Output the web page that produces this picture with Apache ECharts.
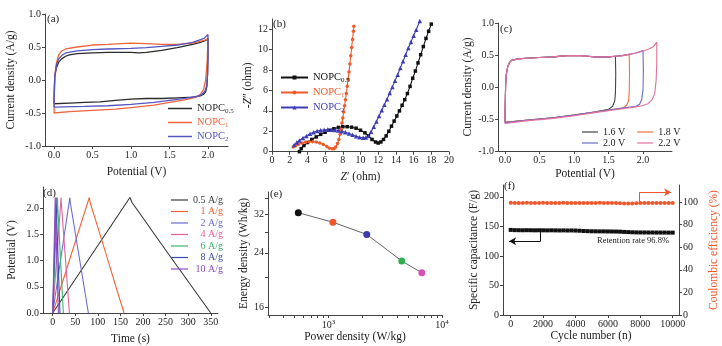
<!DOCTYPE html>
<html>
<head>
<meta charset="utf-8">
<script src="https://cdn.jsdelivr.net/npm/echarts@6/dist/echarts.min.js"></script>
<style>
html, body { margin: 0; padding: 0; background: #fff; }
#chart { width: 722px; height: 346px; }
</style>
</head>
<body>
<div id="chart"></div>
<script>
const FONT = 'Liberation Serif'

// (a) CV of the three samples, [potential V, current A/g]
const cvNopc05 = [[0,-0.36],[0.005,-0.1],[0.01,0.05],[0.03,0.18],[0.06,0.27],[0.1,0.32],[0.15,0.36],[0.2,0.38],[0.3,0.40],[0.5,0.41],[0.7,0.42],[0.9,0.42],[1.0,0.42],[1.1,0.41],[1.2,0.42],[1.4,0.45],[1.6,0.49],[1.8,0.54],[1.9,0.57],[1.97,0.60],[2.0,0.63],[2.0,0.4],[1.995,0.1],[1.985,-0.1],[1.97,-0.18],[1.94,-0.22],[1.9,-0.24],[1.8,-0.26],[1.6,-0.27],[1.4,-0.28],[1.2,-0.28],[1.0,-0.29],[0.8,-0.31],[0.6,-0.33],[0.4,-0.34],[0.2,-0.35],[0,-0.36]]
const cvNopc1 = [[0,-0.5],[0.005,-0.2],[0.01,0.05],[0.03,0.25],[0.06,0.38],[0.1,0.44],[0.15,0.47],[0.3,0.50],[0.5,0.53],[0.7,0.54],[1.0,0.56],[1.2,0.55],[1.4,0.54],[1.6,0.54],[1.8,0.56],[1.95,0.6],[2.0,0.62],[1.99,0.3],[1.97,0.0],[1.94,-0.15],[1.9,-0.22],[1.85,-0.26],[1.7,-0.3],[1.5,-0.34],[1.3,-0.38],[1.0,-0.42],[0.8,-0.44],[0.5,-0.46],[0.2,-0.48],[0,-0.5]]
const cvNopc2 = [[0,-0.41],[0.005,-0.15],[0.01,0.05],[0.03,0.22],[0.06,0.32],[0.1,0.37],[0.15,0.41],[0.3,0.44],[0.5,0.46],[0.7,0.47],[1.0,0.48],[1.2,0.49],[1.4,0.51],[1.6,0.53],[1.8,0.57],[1.95,0.63],[2.0,0.69],[2.0,0.4],[1.995,0.1],[1.985,-0.08],[1.96,-0.17],[1.92,-0.22],[1.85,-0.25],[1.7,-0.28],[1.5,-0.31],[1.3,-0.34],[1.0,-0.37],[0.7,-0.39],[0.4,-0.40],[0,-0.41]]

// (b) Nyquist plots, [Z' ohm, -Z'' ohm]
const nyqNopc05 = [[3.1,0],[3.3,0.3],[3.6,0.6],[4.0,0.9],[4.5,1.2],[5.0,1.45],[5.5,1.7],[6.0,1.9],[6.5,2.1],[7.0,2.25],[7.5,2.38],[8.0,2.45],[8.5,2.45],[9.0,2.4],[9.5,2.3],[10.0,2.1],[10.5,1.85],[10.9,1.55],[11.3,1.2],[11.7,0.95],[12.0,0.85],[12.3,0.95],[12.6,1.2],[12.9,1.55],[13.2,2.0],[13.5,2.5],[13.8,3.0],[14.1,3.5],[14.4,4.0],[14.7,4.55],[15.0,5.1],[15.3,5.7],[15.6,6.4],[15.9,7.2],[16.2,7.9],[16.5,8.7],[16.8,9.5],[17.1,10.3],[17.4,11.1],[17.7,11.8],[18.0,12.5]]
const nyqNopc1 = [[2.4,0.45],[2.7,0.6],[3.0,0.72],[3.4,0.85],[3.8,0.93],[4.2,0.98],[4.6,0.98],[5.0,0.95],[5.4,0.85],[5.8,0.7],[6.2,0.5],[6.5,0.35],[6.8,0.28],[7.0,0.3],[7.2,0.45],[7.4,0.8],[7.55,1.2],[7.7,1.7],[7.8,2.2],[7.9,2.8],[8.0,3.3],[8.1,3.9],[8.2,4.5],[8.3,5.1],[8.4,5.7],[8.5,6.4],[8.6,7.1],[8.7,7.8],[8.8,8.6],[8.9,9.4],[9.0,10.2],[9.1,11.0],[9.2,11.8],[9.25,12.3]]
const nyqNopc2 = [[2.5,0.65],[2.8,0.9],[3.1,1.1],[3.5,1.35],[3.9,1.55],[4.3,1.75],[4.7,1.9],[5.1,2.02],[5.5,2.1],[5.9,2.15],[6.3,2.17],[6.7,2.15],[7.1,2.12],[7.5,2.08],[7.9,2.0],[8.3,1.9],[8.7,1.78],[9.1,1.65],[9.5,1.52],[9.9,1.42],[10.3,1.37],[10.6,1.38],[10.9,1.55],[11.2,1.95],[11.5,2.45],[11.8,2.95],[12.1,3.5],[12.4,4.05],[12.7,4.6],[13.0,5.15],[13.3,5.75],[13.6,6.35],[13.9,6.95],[14.2,7.55],[14.5,8.2],[14.8,8.85],[15.1,9.5],[15.4,10.15],[15.7,10.75],[16.0,11.35],[16.3,11.95],[16.7,12.8]]

// (c) CV at different voltage windows
const cv16 = [[0,-0.55],[0.005,-0.2],[0.01,0.05],[0.02,0.2],[0.04,0.32],[0.07,0.39],[0.1,0.42],[0.2,0.44],[0.3,0.45],[0.5,0.46],[0.7,0.47],[0.9,0.49],[1.0,0.49],[1.1,0.49],[1.2,0.48],[1.3,0.47],[1.4,0.47],[1.5,0.47],[1.6,0.48],[1.605,0.2],[1.6,-0.1],[1.59,-0.22],[1.56,-0.3],[1.5,-0.35],[1.3,-0.39],[1.0,-0.44],[0.7,-0.48],[0.5,-0.5],[0.3,-0.52],[0,-0.55]]
const cv18 = [[0,-0.55],[0.005,-0.2],[0.01,0.05],[0.02,0.2],[0.04,0.32],[0.07,0.39],[0.1,0.42],[0.2,0.44],[0.3,0.45],[0.5,0.46],[0.7,0.47],[0.9,0.49],[1.0,0.49],[1.1,0.49],[1.2,0.48],[1.3,0.47],[1.4,0.47],[1.5,0.47],[1.6,0.48],[1.7,0.49],[1.8,0.51],[1.805,0.2],[1.8,-0.1],[1.79,-0.22],[1.76,-0.29],[1.7,-0.33],[1.5,-0.36],[1.3,-0.39],[1.0,-0.44],[0.7,-0.48],[0.5,-0.5],[0.3,-0.52],[0,-0.55]]
const cv20 = [[0,-0.56],[0.005,-0.2],[0.01,0.05],[0.02,0.2],[0.04,0.32],[0.07,0.39],[0.1,0.42],[0.2,0.44],[0.3,0.45],[0.5,0.46],[0.7,0.47],[0.9,0.49],[1.0,0.49],[1.1,0.49],[1.2,0.48],[1.3,0.47],[1.4,0.47],[1.5,0.47],[1.6,0.48],[1.7,0.49],[1.8,0.51],[1.9,0.53],[2.0,0.57],[2.005,0.25],[2.0,-0.05],[1.98,-0.2],[1.95,-0.27],[1.9,-0.3],[1.7,-0.33],[1.5,-0.36],[1.3,-0.39],[1.0,-0.44],[0.7,-0.48],[0.5,-0.5],[0.3,-0.52],[0,-0.56]]
const cv22 = [[0,-0.57],[0.005,-0.2],[0.01,0.05],[0.02,0.2],[0.04,0.32],[0.07,0.39],[0.1,0.42],[0.2,0.44],[0.3,0.45],[0.5,0.46],[0.7,0.47],[0.9,0.49],[1.0,0.49],[1.1,0.49],[1.2,0.48],[1.3,0.47],[1.4,0.47],[1.5,0.47],[1.6,0.48],[1.7,0.49],[1.8,0.51],[1.9,0.53],[2.0,0.56],[2.1,0.6],[2.15,0.63],[2.2,0.70],[2.2,0.4],[2.19,0.1],[2.17,-0.1],[2.13,-0.2],[2.07,-0.26],[2.0,-0.29],[1.9,-0.31],[1.7,-0.34],[1.5,-0.37],[1.3,-0.4],[1.0,-0.45],[0.7,-0.49],[0.5,-0.51],[0.3,-0.53],[0,-0.57]]

// (d) charge-discharge, [time s, potential V]
const gcd05 = [[0,0],[171,2.2],[176,2.1],[200,1.81],[250,1.2],[300,0.6],[350,0]]
const gcd1 = [[0,0],[81,2.2],[83,2.1],[100,1.63],[120,1.07],[140,0.5],[158,0]]
const gcd2 = [[0,0],[38,2.2],[39,2.1],[79,0]]
const gcd4 = [[0,0],[18.5,2.2],[19,2.1],[37,0]]
const gcd6 = [[0,0],[10.5,2.2],[11,2.05],[23.5,0]]
const gcd8 = [[0,0],[7.5,2.2],[8,2.0],[16,0]]
const gcd10 = [[0,0],[5.5,2.2],[6,2.0],[12.5,0]]
const gcdNames = ['0.5 A/g', '1 A/g', '2 A/g', '4 A/g', '6 A/g', '8 A/g', '10 A/g']
const gcdColors = ['#3a3a3a', '#f0643a', '#6c6cd0', '#e6609c', '#3cb46e', '#3a4aa8', '#8a4cc8']

// (e) Ragone plot
const powerDensity = [540, 1090, 2170, 4420, 6640]
const energyDensity = [32.3, 30.1, 27.5, 22.6, 20.7]
const ragoneColors = ['#111111', '#f0562a', '#3a3aa8', '#2eb050', '#d850b0']

// (f) cycling
const cycleNumber = [0,250,500,750,1000,1250,1500,1750,2000,2250,2500,2750,3000,3250,3500,3750,4000,4250,4500,4750,5000,5250,5500,5750,6000,6250,6500,6750,7000,7250,7500,7750,8000,8250,8500,8750,9000,9250,9500,9750,10000]
const capacitance = [144.0,143.6,143.5,143.4,143.5,143.4,143.3,143.4,143.3,143.2,143.3,143.2,143.1,143.2,143.0,143.1,142.9,142.6,142.2,141.9,141.7,141.6,141.5,141.5,141.4,141.3,141.2,141.0,140.6,140.3,140.0,139.8,139.7,139.7,139.6,139.6,139.5,139.5,139.5,139.4,139.4]
const efficiency = [99.2,99.0,99.1,99.0,99.2,99.1,99.0,99.1,99.2,99.0,99.1,99.0,99.1,99.2,99.0,99.1,99.0,99.1,99.0,99.1,99.0,99.1,99.2,99.0,99.1,99.0,99.0,98.9,98.7,98.6,98.7,98.9,99.0,99.1,99.0,99.1,99.0,99.1,99.0,99.1,99.0]
const capArrow = [[1850, 143], [1850, 125], [-100, 125]]
const effArrow = [[7940, 99], [7940, 108.5], [9900, 108.5]]

const subs = { a05: '0.5', a1: '1', a2: '2', b05: '0.5', b1: '1', b2: '2' }

function mkAxis (o) {
    return {
        type: o.type || 'value',
        gridIndex: o.grid,
        min: o.min,
        max: o.max,
        interval: o.interval,
        position: o.position,
        name: o.name,
        nameLocation: 'middle',
        nameGap: o.gap,
        nameRotate: o.rotate,
        nameTextStyle: Object.assign({ fontFamily: FONT, fontSize: 11.5, color: '#222' }, o.nameStyle),
        axisLine: { show: true, onZero: false, lineStyle: { color: '#444', width: 1 } },
        axisTick: { show: true, length: 3, customValues: o.ticks, lineStyle: { color: '#444' } },
        axisLabel: { fontFamily: FONT, fontSize: 10, color: '#222', margin: 4, customValues: o.labels, formatter: o.fmt || (v => String(v)), rich: o.rich },
        splitLine: { show: false }
    }
}

function curve (name, data, color, axis, extra) {
    return Object.assign({
        name: name,
        type: 'line',
        xAxisIndex: axis,
        yAxisIndex: axis,
        data: data,
        symbol: 'none',
        color: color,
        lineStyle: { width: 1.1, color: color },
        silent: true
    }, extra)
}

const fix1 = v => v.toFixed(1)
const subFmt = name => '{t|NOPC}{s|' + subs[name] + '}'
const subRich = { t: { fontSize: 10.5, fontFamily: FONT }, s: { fontSize: 7, fontFamily: FONT, padding: [6, 0, 0, 0] } }
const lineIcon = 'rect'

const chart = echarts.init(document.getElementById('chart'), null, { renderer: 'canvas' })

chart.setOption({
    animation: false,
    backgroundColor: '#fff',
    textStyle: { fontFamily: FONT },
    title: [
        ['(a)', 47, 14], ['(b)', 273, 19], ['(c)', 500, 24], ['(d)', 43, 188], ['(e)', 270, 189], ['(f)', 504, 181]
    ].map(t => ({ text: t[0], left: t[1], top: t[2], padding: 0, textStyle: { fontFamily: FONT, fontSize: 11, fontWeight: 'normal', color: '#222' } })),
    grid: [
        { left: 45, top: 14, width: 183, height: 132 },
        { left: 272, top: 19, width: 177, height: 132.7 },
        { left: 498, top: 23, width: 174, height: 128 },
        { left: 43, top: 187, width: 175, height: 128 },
        { left: 268, top: 192, width: 174, height: 123 },
        { left: 503, top: 185, width: 176, height: 130 }
    ],
    xAxis: [
        mkAxis({ grid: 0, min: -0.117, max: 2.26, labels: [0, 0.5, 1, 1.5, 2], ticks: [0, 0.5, 1, 1.5, 2], fmt: fix1, name: 'Potential (V)', gap: 20 }),
        mkAxis({ grid: 1, min: 0, max: 20, interval: 2, name: '{i|Z}′ (ohm)', gap: 19, nameStyle: { rich: { i: { fontStyle: 'italic', fontFamily: FONT, fontSize: 11.5 } } } }),
        mkAxis({ grid: 2, min: -0.101, max: 2.42, labels: [0, 0.5, 1, 1.5, 2], ticks: [0, 0.5, 1, 1.5, 2], fmt: fix1, name: 'Potential (V)', gap: 17 }),
        mkAxis({ grid: 3, min: -21.5, max: 366, labels: [0, 50, 100, 150, 200, 250, 300, 350], ticks: [0, 50, 100, 150, 200, 250, 300, 350], name: 'Time (s)', gap: 20 }),
        mkAxis({
            grid: 4, type: 'log', min: 292, max: 10000, labels: [1000, 10000],
            ticks: [300, 400, 500, 600, 700, 800, 900, 1000, 2000, 3000, 4000, 5000, 6000, 7000, 8000, 9000, 10000],
            fmt: v => '{b|10}{e|' + Math.round(Math.log10(v)) + '}',
            rich: { b: { fontSize: 10, fontFamily: FONT }, e: { fontSize: 7, fontFamily: FONT, padding: [0, 0, 6, 0] } },
            name: 'Power density (W/kg)', gap: 13
        }),
        mkAxis({ grid: 5, min: -475, max: 10389, labels: [0, 2000, 4000, 6000, 8000, 10000], ticks: [0, 2000, 4000, 6000, 8000, 10000], name: 'Cycle number (n)', gap: 15 })
    ],
    yAxis: [
        mkAxis({ grid: 0, min: -1, max: 1, interval: 0.5, fmt: fix1, name: 'Current density (A/g)', gap: 28 }),
        mkAxis({ grid: 1, min: 0, max: 13, labels: [0, 2, 4, 6, 8, 10, 12], ticks: [0, 2, 4, 6, 8, 10, 12], name: '-{i|Z}″ (ohm)', gap: 17, nameStyle: { rich: { i: { fontStyle: 'italic', fontFamily: FONT, fontSize: 11.5 } } } }),
        mkAxis({ grid: 2, min: -1, max: 1, interval: 0.5, fmt: fix1, name: 'Current density (A/g)', gap: 22 }),
        mkAxis({ grid: 3, min: 0, max: 2.4, labels: [0, 0.5, 1, 1.5, 2], ticks: [0, 0.5, 1, 1.5, 2], fmt: fix1, name: 'Potential (V)', gap: 25 }),
        mkAxis({ grid: 4, type: 'log', min: 15.15, max: 37.65, labels: [16, 24, 32], ticks: [16, 20, 24, 28, 32, 36], name: 'Energy density (Wh/kg)', gap: 14 }),
        mkAxis({ grid: 5, min: 0, max: 220, labels: [0, 50, 100, 150, 200], ticks: [0, 50, 100, 150, 200], name: 'Specific capacitance (F/g)', gap: 13 }),
        mkAxis({ grid: 5, min: 0, max: 115, labels: [0, 20, 40, 60, 80, 100], ticks: [0, 20, 40, 60, 80, 100], position: 'right', name: 'Coulombic efficiency (%)', gap: 29, rotate: 90, nameStyle: { color: '#f0562a' } })
    ],
    legend: [
        {
            left: 163, top: 98, orient: 'vertical', selectedMode: false, icon: lineIcon, itemWidth: 24, itemHeight: 1.5, itemGap: 2,
            data: [{ name: 'a05', textStyle: { color: '#2b2b2b' } }, { name: 'a1', textStyle: { color: '#f0643c' } }, { name: 'a2', textStyle: { color: '#5555c0' } }],
            formatter: subFmt, textStyle: { rich: subRich }
        },
        {
            left: 275, top: 67, orient: 'vertical', selectedMode: false, itemWidth: 27, itemHeight: 5, itemGap: 3,
            data: [{ name: 'b05', textStyle: { color: '#111' } }, { name: 'b1', textStyle: { color: '#ef5a2a' } }, { name: 'b2', textStyle: { color: '#3c3cb4' } }],
            formatter: subFmt, textStyle: { rich: subRich }
        },
        {
            left: 577, top: 122, orient: 'horizontal', selectedMode: false, icon: lineIcon, itemWidth: 16, itemHeight: 1.2, itemGap: 12,
            data: ['1.6 V', '1.8 V'], textStyle: { fontFamily: FONT, fontSize: 10, color: '#222' }
        },
        {
            left: 577, top: 133, orient: 'horizontal', selectedMode: false, icon: lineIcon, itemWidth: 16, itemHeight: 1.2, itemGap: 12,
            data: ['2.0 V', '2.2 V'], textStyle: { fontFamily: FONT, fontSize: 10, color: '#222' }
        },
        {
            left: 166, top: 190, orient: 'vertical', selectedMode: false, icon: lineIcon, itemWidth: 17, itemHeight: 1.2, itemGap: 1.5,
            data: gcdNames.map((n, i) => ({ name: n, textStyle: { color: gcdColors[i] } })),
            formatter: n => '{r|' + n + '}',
            textStyle: { fontFamily: FONT, fontSize: 10, rich: { r: { width: 30, align: 'right', fontSize: 10, fontFamily: FONT } } }
        }
    ],
    graphic: [
        { type: 'text', left: 597, top: 236, style: { text: 'Retention rate 96.8%', font: '8.5px "Liberation Serif"', fill: '#222' } }
    ],
    series: [
        curve('a05', cvNopc05, '#2b2b2b', 0, { lineStyle: { width: 1.3, color: '#2b2b2b' } }),
        curve('a1', cvNopc1, '#f0643c', 0, { lineStyle: { width: 1.3, color: '#f0643c' } }),
        curve('a2', cvNopc2, '#5555c0', 0, { lineStyle: { width: 1.3, color: '#5555c0' } }),

        curve('b05', nyqNopc05, '#111', 1, { symbol: 'rect', symbolSize: 3.5, showSymbol: true }),
        curve('b1', nyqNopc1, '#ef5a2a', 1, { symbol: 'circle', symbolSize: 3.5, showSymbol: true }),
        curve('b2', nyqNopc2, '#3c3cb4', 1, { symbol: 'triangle', symbolSize: 4.5, showSymbol: true }),

        curve('1.6 V', cv16, '#444', 2),
        curve('1.8 V', cv18, '#f07040', 2),
        curve('2.0 V', cv20, '#6a6ad0', 2),
        curve('2.2 V', cv22, '#e0709a', 2),

        curve(gcdNames[0], gcd05, gcdColors[0], 3),
        curve(gcdNames[1], gcd1, gcdColors[1], 3),
        curve(gcdNames[2], gcd2, gcdColors[2], 3),
        curve(gcdNames[3], gcd4, gcdColors[3], 3),
        curve(gcdNames[4], gcd6, gcdColors[4], 3),
        curve(gcdNames[5], gcd8, gcdColors[5], 3),
        curve(gcdNames[6], gcd10, gcdColors[6], 3),

        {
            name: 'ragone', type: 'line', xAxisIndex: 4, yAxisIndex: 4, silent: true,
            symbol: 'circle', symbolSize: 7,
            lineStyle: { color: '#666', width: 1 },
            data: powerDensity.map((p, i) => ({ value: [p, energyDensity[i]], itemStyle: { color: ragoneColors[i] } }))
        },

        {
            name: 'capacitance', type: 'line', xAxisIndex: 5, yAxisIndex: 5, silent: true,
            symbol: 'rect', symbolSize: 4, color: '#111', lineStyle: { color: '#111', width: 1 },
            data: cycleNumber.map((c, i) => [c, capacitance[i]]),
            markLine: {
                silent: true, symbol: ['none', 'none'], label: { show: false },
                lineStyle: { color: '#111', width: 1, type: 'solid' },
                data: [
                    [{ coord: capArrow[0] }, { coord: capArrow[1] }],
                    [{ coord: capArrow[1] }, { coord: capArrow[2], symbol: 'arrow', symbolSize: [6, 7] }]
                ]
            }
        },
        {
            name: 'efficiency', type: 'line', xAxisIndex: 5, yAxisIndex: 6, silent: true,
            symbol: 'circle', symbolSize: 4, color: '#f0562a', lineStyle: { color: '#f0562a', width: 1 },
            data: cycleNumber.map((c, i) => [c, efficiency[i]]),
            markLine: {
                silent: true, symbol: ['none', 'none'], label: { show: false },
                lineStyle: { color: '#f0562a', width: 1, type: 'solid' },
                data: [
                    [{ coord: effArrow[0] }, { coord: effArrow[1] }],
                    [{ coord: effArrow[1] }, { coord: effArrow[2], symbol: 'arrow', symbolSize: [6, 7] }]
                ]
            }
        }
    ]
})
</script>
</body>
</html>
